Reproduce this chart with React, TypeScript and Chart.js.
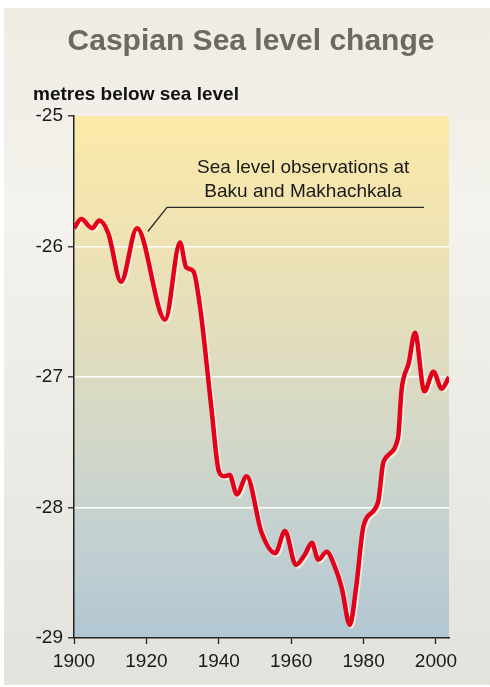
import React, { useEffect, useRef } from "react";
import { Chart, registerables } from "chart.js";

Chart.register(...registerables);

const titleText = "Caspian Sea level change";
const unitLabel = "metres below sea level";
const noteLines = ["Sea level observations at", "Baku and Makhachkala"];

const years = [
  1900, 1902, 1905, 1907, 1909.5, 1913, 1917.4, 1925.2, 1929.3, 1931, 1933,
  1935, 1938, 1940, 1941.5, 1943, 1945, 1947.7, 1951.8, 1955.6, 1958.3,
  1961.3, 1963.8, 1965.7, 1967.5, 1969.8, 1972, 1974, 1976.2, 1978, 1980,
  1984, 1985.5, 1989.5, 1990.5, 1992.5, 1994.2, 1996.8, 1999.3, 2001.6, 2003.6,
];
const levels = [
  -25.86, -25.79, -25.86, -25.8, -25.9, -26.27, -25.86, -26.56, -25.97, -26.16,
  -26.19, -26.5, -27.25, -27.72, -27.76, -27.75, -27.9, -27.76, -28.19, -28.35,
  -28.18, -28.44, -28.36, -28.27, -28.4, -28.34, -28.45, -28.62, -28.9, -28.6,
  -28.14, -27.96, -27.65, -27.47, -27.1, -26.89, -26.66, -27.11, -26.96,
  -27.09, -27.0,
];
const xTicks = [1900, 1920, 1940, 1960, 1980, 2000];
const yTicks = [-25, -26, -27, -28, -29];

// annotation anchor points in data units
const noteTextX = 1963.3;
const noteTextY = [-25.395, -25.58];
const leaderX = [1920.4, 1925.7, 1996.7];
const leaderY = [-25.885, -25.7, -25.7];

const FONT = "'Liberation Sans', Arial, Helvetica, sans-serif";

const decorPlugin = {
  id: "decor",
  beforeDraw(chart: any) {
    const { ctx, chartArea, width, height } = chart;
    ctx.save();
    ctx.fillStyle = "#ffffff";
    ctx.fillRect(0, 0, width, height);
    const pg = ctx.createLinearGradient(0, 8, 0, 685);
    pg.addColorStop(0, "#efece3");
    pg.addColorStop(0.3, "#f3f2ec");
    pg.addColorStop(1, "#e3e2dc");
    ctx.fillStyle = pg;
    ctx.fillRect(4, 8, width - 4, 677);
    const g = ctx.createLinearGradient(0, chartArea.top, 0, chartArea.bottom);
    g.addColorStop(0, "#fdeaa8");
    g.addColorStop(0.25, "#eee2b5");
    g.addColorStop(0.5, "#dcdbc1");
    g.addColorStop(0.75, "#c8d3cf");
    g.addColorStop(1, "#b2c7d3");
    ctx.fillStyle = g;
    ctx.fillRect(
      chartArea.left,
      chartArea.top,
      chartArea.right - chartArea.left,
      chartArea.bottom - chartArea.top
    );
    ctx.restore();
  },
  beforeDatasetDraw(chart: any) {
    const ctx = chart.ctx;
    ctx.save();
    ctx.shadowColor = "rgba(250,246,232,0.95)";
    ctx.shadowOffsetX = 1.5;
    ctx.shadowOffsetY = 1.5;
    ctx.shadowBlur = 1;
  },
  afterDatasetDraw(chart: any) {
    chart.ctx.restore();
  },
  afterDraw(chart: any) {
    const { ctx, scales } = chart;
    const xs = scales.x;
    const ys = scales.y;
    ctx.save();
    ctx.textAlign = "center";
    ctx.textBaseline = "middle";
    ctx.fillStyle = "#6b6a5e";
    ctx.font = `bold 30px ${FONT}`;
    ctx.fillText(titleText, 251, 42);
    ctx.textAlign = "left";
    ctx.fillStyle = "#111111";
    ctx.font = `bold 19px ${FONT}`;
    ctx.fillText(unitLabel, 33, 95);

    ctx.textAlign = "center";
    ctx.font = `19px ${FONT}`;
    ctx.fillStyle = "#1a1a1a";
    noteLines.forEach((t, i) => {
      ctx.fillText(t, xs.getPixelForValue(noteTextX), ys.getPixelForValue(noteTextY[i]));
    });
    ctx.strokeStyle = "#2a2a2a";
    ctx.lineWidth = 1.3;
    ctx.beginPath();
    leaderX.forEach((v, i) => {
      const px = xs.getPixelForValue(v);
      const py = ys.getPixelForValue(leaderY[i]);
      if (i === 0) ctx.moveTo(px, py);
      else ctx.lineTo(px, py);
    });
    ctx.stroke();
    ctx.restore();
  },
};

export default function App() {
  const ref = useRef<HTMLCanvasElement | null>(null);
  useEffect(() => {
    if (!ref.current) return;
    const chart = new Chart(ref.current, {
      type: "line",
      data: {
        datasets: [
          {
            data: years.map((y, i) => ({ x: y, y: levels[i] })),
            borderColor: "#e2001a",
            borderWidth: 4.5,
            pointRadius: 0,
            cubicInterpolationMode: "monotone",
            fill: false,
          },
        ],
      },
      options: {
        responsive: false,
        animation: false,
        events: [],
        layout: { padding: { left: 0, top: 116, right: 41, bottom: 0 } },
        plugins: {
          legend: { display: false },
          title: { display: false },
          tooltip: { enabled: false },
        },
        scales: {
          x: {
            type: "linear",
            min: 1900,
            max: 2003.6,
            afterFit: (s: any) => {
              s.height = 49;
            },
            afterBuildTicks: (s: any) => {
              s.ticks = xTicks.map((v) => ({ value: v }));
            },
            ticks: {
              includeBounds: false,
              autoSkip: false,
              maxRotation: 0,
              padding: 6,
              color: "#1a1a1a",
              font: { family: FONT, size: 19 },
              callback: (v: any) => String(v),
            },
            grid: {
              drawOnChartArea: false,
              tickLength: 6,
              tickColor: "#222222",
              tickWidth: 1.3,
            },
            border: { display: true, color: "#222222", width: 1.5 },
          },
          y: {
            type: "linear",
            min: -29,
            max: -25,
            afterFit: (s: any) => {
              s.width = 74;
            },
            afterBuildTicks: (s: any) => {
              s.ticks = yTicks.map((v) => ({ value: v }));
            },
            ticks: {
              autoSkip: false,
              padding: 5,
              color: "#1a1a1a",
              font: { family: FONT, size: 19 },
              callback: (v: any) => String(v),
            },
            grid: {
              color: (c: any) =>
                c.tick && (c.tick.value === -25 || c.tick.value === -29)
                  ? "rgba(0,0,0,0)"
                  : "#ffffff",
              lineWidth: 1.6,
              tickLength: 6,
              tickColor: "#222222",
              tickWidth: 1.3,
            },
            border: { display: true, color: "#222222", width: 1.5 },
          },
        },
      },
      plugins: [decorPlugin],
    });
    return () => chart.destroy();
  }, []);
  return (
    <div style={{ position: "fixed", left: 0, top: 0, width: 490, height: 687 }}>
      <canvas ref={ref} width={490} height={687} style={{ display: "block" }} />
    </div>
  );
}
